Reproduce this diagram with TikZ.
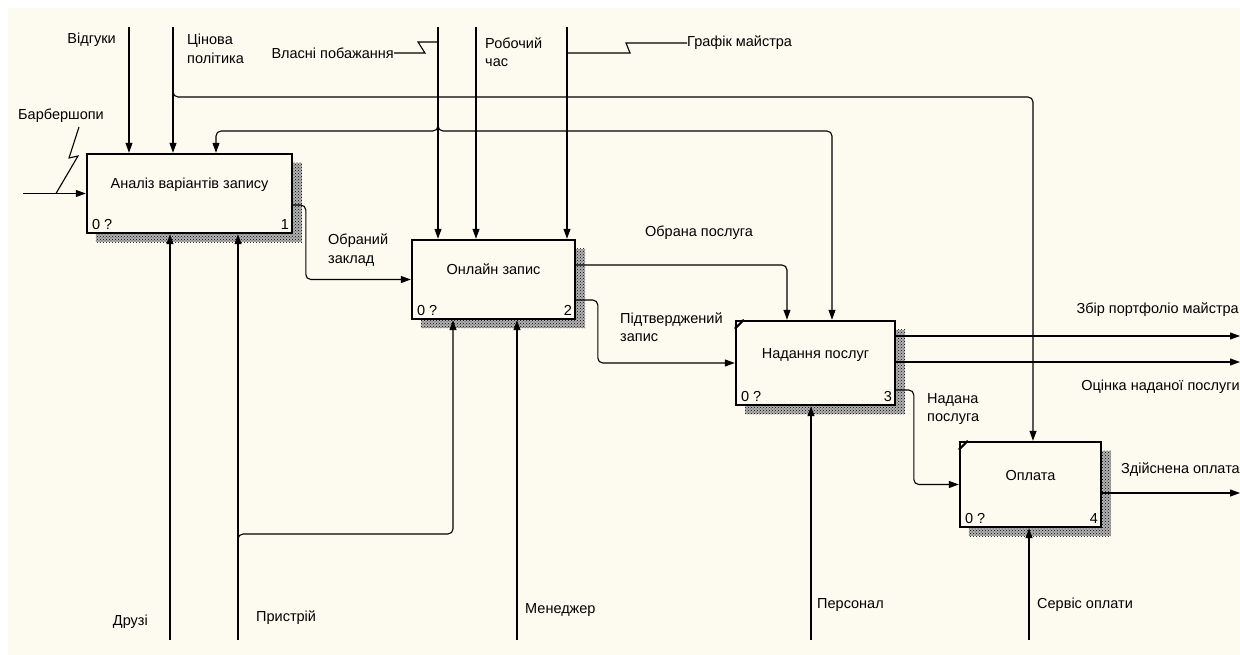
\documentclass[tikz,border=0pt]{standalone}
\usepackage{fontspec}
\setmainfont{Liberation Sans}
\usetikzlibrary{arrows.meta,positioning,calc,patterns,backgrounds}
\definecolor{papercolor}{HTML}{FDFAF0}

\begin{document}
\begin{tikzpicture}[x=1pt,y=-1pt,
  font=\fontsize{14.5}{18.5}\selectfont,
  func/.style={draw,line width=2.4pt,fill=papercolor,inner sep=0pt,text height=9pt,text depth=18pt},
  shade/.style={pattern=crosshatch dots,pattern color=black},
  arr/.style={-{Triangle[length=10pt,width=7pt]},line width=1.1pt,rounded corners=5pt},
  lnk/.style={line width=1.1pt},
  lbl/.style={inner sep=0pt,align=left},
  num/.style={inner sep=0pt}]
  \useasboundingbox (0,0) rectangle (1240,655);
  % Function boxes
  \node[func,minimum width=205pt,minimum height=79pt] (b1) at (189.5,193.5) {Аналіз варіантів запису};
  \node[func,minimum width=163pt,minimum height=79pt] (b2) at (493.5,279.5) {Онлайн запис};
  \node[func,minimum width=159pt,minimum height=84pt] (b3) at (815.5,363) {Надання послуг};
  \node[func,minimum width=141pt,minimum height=85pt] (b4) at (1030.5,484.5) {Оплата};
  % Box numbers
  \node[num,anchor=base west] (n1a) at ($(b1.south west)+(6,-5)$) {0 ?};
  \node[num,anchor=base east] (n1b) at ($(b1.south east)+(-4,-5)$) {1};
  \node[num,anchor=base west] (n2a) at ($(b2.south west)+(6,-5)$) {0 ?};
  \node[num,anchor=base east] (n2b) at ($(b2.south east)+(-4,-5)$) {2};
  \node[num,anchor=base west] (n3a) at ($(b3.south west)+(6,-5)$) {0 ?};
  \node[num,anchor=base east] (n3b) at ($(b3.south east)+(-4,-5)$) {3};
  \node[num,anchor=base west] (n4a) at ($(b4.south west)+(6,-5)$) {0 ?};
  \node[num,anchor=base east] (n4b) at ($(b4.south east)+(-4,-5)$) {4};
  \draw[line width=2pt] ($(b3.north west)+(0,9)$) -- ($(b3.north west)+(9,0)$);
  \draw[line width=2pt] ($(b4.north west)+(0,9)$) -- ($(b4.north west)+(9,0)$);
  % Paper and shadows
  \begin{scope}[on background layer]
    \fill[white] (0,0) rectangle (1240,655);
    \fill[papercolor] (8,8) rectangle (1240,655);
    \foreach \b in {b1,b2,b3,b4}{
      \fill[black!30] ($(\b.north west)+(10,10)$) rectangle ($(\b.south east)+(9,8)$);
      \fill[shade] ($(\b.north west)+(10,10)$) rectangle ($(\b.south east)+(9,8)$);
    }
  \end{scope}
  % Controls from the top
  \coordinate (vidgtop) at (129,27);
  \draw[arr] (vidgtop) -- (vidgtop |- b1.north);
  \node[lbl,anchor=east] (vidg) at (116,40) {Відгуки};
  \coordinate (cinatop) at (173,27);
  \draw[arr] (cinatop) -- (cinatop |- b1.north);
  \node[lbl,anchor=west] (cina) at (187,49) {Цінова\\політика};
  \coordinate (cinabr) at (173,88);
  \coordinate (c4in) at (1033,97);
  \draw[arr] (cinabr) |- (c4in) -- (c4in |- b4.north);
  \coordinate (vlastop) at (438,27);
  \draw[arr] (vlastop) -- (vlastop |- b2.north);
  \node[lbl,anchor=east] (vlas) at (394,53) {Власні побажання};
  \coordinate (vlasj) at (438,42);
  \draw[lnk] (vlas.east) -- (425,53) -- (418,42) -- (vlasj);
  \coordinate (vlasbr) at (438,123);
  \coordinate (c1in) at (216,131);
  \coordinate (c3in) at (832,131);
  \draw[arr] (vlasbr) |- (c1in) -- (c1in |- b1.north);
  \draw[arr] (vlasbr) |- (c3in) -- (c3in |- b3.north);
  \coordinate (robtop) at (476,27);
  \draw[arr] (robtop) -- (robtop |- b2.north);
  \node[lbl,anchor=west] (rob) at (485,52) {Робочий\\час};
  \coordinate (graftop) at (567,27);
  \draw[arr] (graftop) -- (graftop |- b2.north);
  \node[lbl,anchor=west] (graf) at (687,43) {Графік майстра};
  \coordinate (grafj) at (567,53);
  \draw[lnk] (grafj) -- (630,53) -- (626,43) -- (graf.west);
  % Input
  \coordinate (barbin) at (23,193.5);
  \draw[arr] (barbin) -- (b1.west);
  \node[lbl,anchor=south] (barb) at (61,123) {Барбершопи};
  \draw[lnk] ($(barb.south)+(18,4)$) -- (69,158) -- (78,156) -- (56,193.5);
  % Flow between boxes
  \draw[arr] ($(b1.east)+(0,11.5)$) -| ($(b2.west)+(-105,0)$) -- (b2.west);
  \node[lbl,anchor=west] (zakl) at (328,250) {Обраний\\заклад};
  \draw[arr] ($(b2.east)+(0,-14.5)$) -| ($(b3.north)+(-28.5,0)$);
  \node[lbl] (obr) at (699,233) {Обрана послуга};
  \draw[arr] ($(b2.east)+(0,20.5)$) -| ($(b3.west)+(-137,0)$) -- (b3.west);
  \node[lbl,anchor=west] (pidt) at (620,327) {Підтверджений\\запис};
  \draw[arr] ($(b3.east)+(0,27)$) -| ($(b4.west)+(-45,0)$) -- (b4.west);
  \node[lbl,anchor=west] (nad) at (927,409) {Надана\\послуга};
  % Outputs
  \coordinate (out31) at (1240,336);
  \coordinate (out32) at (1240,362);
  \coordinate (out41) at (1240,493);
  \draw[arr] (b3.east |- out31) -- (out31);
  \draw[arr] (b3.east |- out32) -- (out32);
  \draw[arr] (b4.east |- out41) -- (out41);
  \node[lbl,anchor=east] (port) at (1239,310) {Збір портфоліо майстра};
  \node[lbl,anchor=east] (ocin) at (1240,387) {Оцінка наданої послуги};
  \node[lbl,anchor=east] (zdis) at (1240,470) {Здійснена оплата};
  % Mechanisms from the bottom
  \coordinate (druzbot) at (170,640);
  \draw[arr] (druzbot) -- (druzbot |- b1.south);
  \node[lbl,anchor=east] (druz) at (148,622) {Друзі};
  \coordinate (prysbot) at (238,640);
  \draw[arr] (prysbot) -- (prysbot |- b1.south);
  \node[lbl,anchor=west] (prys) at (256,618) {Пристрій};
  \coordinate (prysbr) at (238,541);
  \coordinate (m2in) at (453,534);
  \draw[arr] (prysbr) |- (m2in) -- (m2in |- b2.south);
  \coordinate (menbot) at (517,640);
  \draw[arr] (menbot) -- (menbot |- b2.south);
  \node[lbl,anchor=west] (men) at (525,610) {Менеджер};
  \coordinate (persbot) at (811,640);
  \draw[arr] (persbot) -- (persbot |- b3.south);
  \node[lbl,anchor=west] (pers) at (817,605) {Персонал};
  \coordinate (servbot) at (1029,640);
  \draw[arr] (servbot) -- (servbot |- b4.south);
  \node[lbl,anchor=west] (serv) at (1037,605) {Сервіс оплати};
\end{tikzpicture}
\end{document}
